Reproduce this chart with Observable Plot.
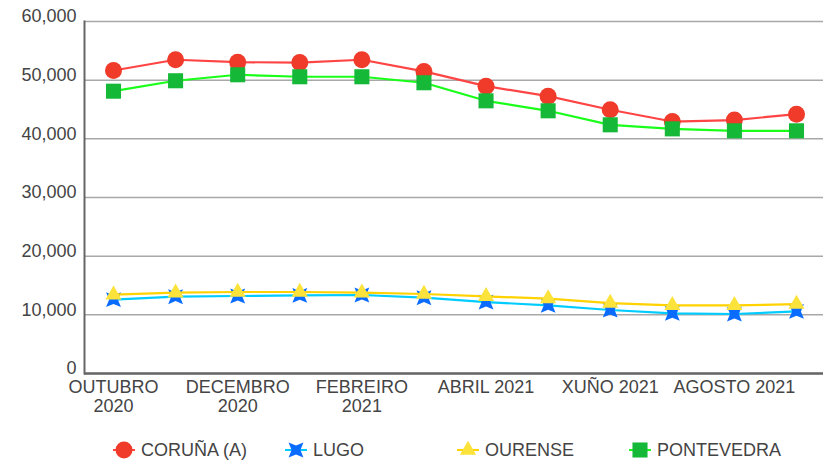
<!DOCTYPE html>
<html>
<head>
<meta charset="utf-8">
<script src="https://cdn.jsdelivr.net/npm/d3@7"></script>
<script src="https://cdn.jsdelivr.net/npm/@observablehq/plot@0.6"></script>
<style>
  html, body { margin: 0; padding: 0; background: #fff; }
  #chart { width: 823px; height: 463px; font-family: "Liberation Sans", Arial, sans-serif; }
  #chart svg { display: block; }
</style>
</head>
<body>
<div id="chart"></div>
<script>
const months = ["OUTUBRO 2020","NOVEMBRO 2020","DECEMBRO 2020","XANEIRO 2021","FEBREIRO 2021","MARZO 2021","ABRIL 2021","MAIO 2021","XUÑO 2021","XULLO 2021","AGOSTO 2021","SETEMBRO 2021"];
const monthTickLabels = ["OUTUBRO\n2020","","DECEMBRO\n2020","","FEBREIRO\n2021","","ABRIL 2021","","XUÑO 2021","","AGOSTO 2021",""];
const yTicks = [0, 10000, 20000, 30000, 40000, 50000, 60000];

const seriesNames = ["CORUÑA (A)", "LUGO", "OURENSE", "PONTEVEDRA"];
const coruna     = [51650, 53480, 53070, 53000, 53480, 51490, 48980, 47270, 44950, 42950, 43200, 44200];
const lugo       = [12580, 13090, 13210, 13310, 13380, 12920, 12180, 11600, 10820, 10240, 10140, 10580];
const ourense    = [13430, 13770, 13890, 13890, 13770, 13550, 13140, 12750, 12010, 11600, 11600, 11840];
const pontevedra = [48120, 49900, 50920, 50580, 50580, 49560, 46480, 44780, 42390, 41700, 41370, 41370];

const star4 = {
  draw(context, size) {
    const r = Math.sqrt(size / Math.PI);
    const ri = r * 0.42;
    for (let i = 0; i < 8; i++) {
      const a = Math.PI / 4 + i * Math.PI / 4;
      const rr = i % 2 === 0 ? r : ri;
      const x = rr * Math.cos(a), y = rr * Math.sin(a);
      if (i === 0) context.moveTo(x, y); else context.lineTo(x, y);
    }
    context.closePath();
  }
};

const styles = [
  {name: seriesNames[0], values: coruna,     line: "#ff4444", fill: "#f03a2a", symbol: "circle", r: 8.5},
  {name: seriesNames[1], values: lugo,       line: "#00ccff", fill: "#0a6cff", symbol: star4,    r: 10.5},
  {name: seriesNames[2], values: ourense,    line: "#ffd200", fill: "#fbe33c", symbol: "triangle", r: 6},
  {name: seriesNames[3], values: pontevedra, line: "#1aff1a", fill: "#16b838", symbol: "square", r: 8.5}
];

const tickLabelOf = new Map(months.map((m, i) => [m, monthTickLabels[i]]));

const marks = [
  Plot.gridY(yTicks, {stroke: "#a8a8a8", strokeOpacity: 1, strokeWidth: 1.5}),
  Plot.axisY({ticks: yTicks, tickSize: 0, tickPadding: 8, dy: -5, fontSize: 18, fill: "#444", tickFormat: d3.format(","), label: null}),
  Plot.axisX({tickSize: 0, tickPadding: 5, fontSize: 18, fill: "#444", lineHeight: 1.1, tickFormat: d => tickLabelOf.get(d), label: null}),
];
for (const s of styles) {
  const data = months.map((m, i) => ({month: m, value: s.values[i]}));
  marks.push(Plot.line(data, {x: "month", y: "value", stroke: s.line, strokeWidth: 2.2}));
  marks.push(Plot.dot(data, {x: "month", y: "value", symbol: s.symbol, r: s.r, fill: s.fill, stroke: "none"}));
}
marks.push(Plot.ruleY([0], {stroke: "#666", strokeWidth: 2.5}));
marks.push(Plot.frame({anchor: "left", stroke: "#666", strokeWidth: 2}));

const plot = Plot.plot({
  width: 823,
  height: 425,
  marginLeft: 84,
  marginRight: 0,
  marginTop: 21,
  marginBottom: 52,
  x: {type: "point", domain: months, range: [113, 796], padding: 0, round: false},
  y: {domain: [0, 60000]},
  style: {fontFamily: "'Liberation Sans', Arial, sans-serif", fontSize: "18px", color: "#444", background: "#fff", overflow: "visible"},
  marks
});
document.getElementById("chart").appendChild(plot);

// Legend below the plot
const legendX = [113, 285, 457, 629];
const legend = d3.create("svg").attr("width", 823).attr("height", 38)
  .style("font-family", "'Liberation Sans', Arial, sans-serif");
styles.forEach((s, i) => {
  const g = legend.append("g").attr("transform", `translate(${legendX[i]},25)`);
  g.append("line").attr("x1", 0).attr("x2", 22).attr("y1", 0).attr("y2", 0)
    .attr("stroke", s.line).attr("stroke-width", 2);
  const sym = typeof s.symbol === "string"
    ? {circle: d3.symbolCircle, square: d3.symbolSquare, triangle: d3.symbolTriangle}[s.symbol]
    : s.symbol;
  g.append("path").attr("transform", "translate(11,0)")
    .attr("d", d3.symbol(sym, Math.PI * s.r * s.r)())
    .attr("fill", s.fill);
  g.append("text").attr("x", 28).attr("y", 0).attr("dy", "0.35em")
    .attr("font-size", 18).attr("fill", "#444").text(s.name);
});
document.getElementById("chart").appendChild(legend.node());
</script>
</body>
</html>
